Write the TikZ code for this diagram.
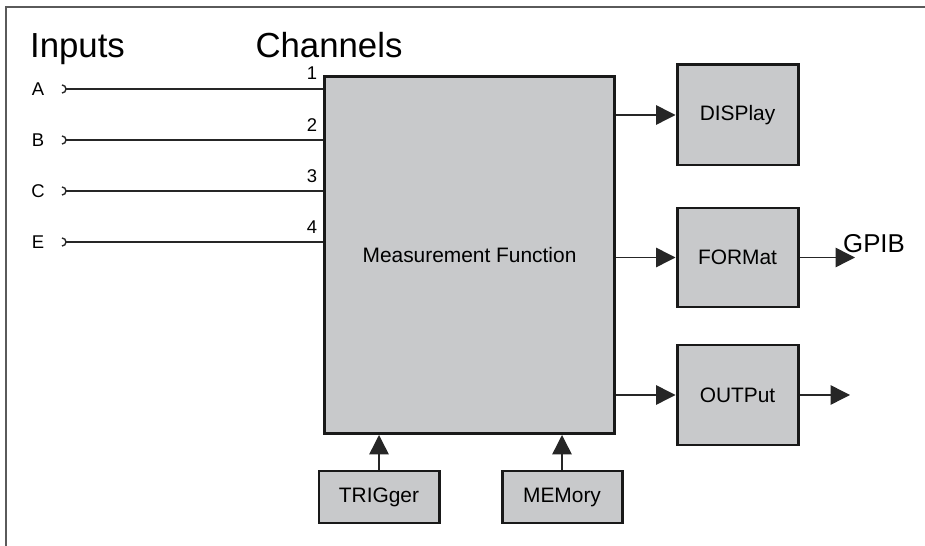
\documentclass[tikz,border=0pt]{standalone}
\usepackage{fontspec}
\setmainfont{Liberation Sans}
\usetikzlibrary{arrows.meta}
\definecolor{boxgray}{RGB}{200,201,203}
\definecolor{framegray}{RGB}{90,90,90}

\begin{document}
\begin{tikzpicture}[x=0.02cm,y=-0.02cm,>={Triangle[length=11pt,width=11pt]},
  blockbox/.style={draw=black!90,fill=boxgray,line width=1.7pt,inner sep=0pt,font=\fontsize{11.9}{14}\selectfont},
  wire/.style={line width=0.8pt,black!85},
  small/.style={font=\fontsize{10.5}{12}\selectfont},
  big/.style={font=\fontsize{19.8}{23}\selectfont,anchor=base}]
  \useasboundingbox (0,0) rectangle (925,546);
  \draw[framegray,line width=1pt] (6,546) -- (6,7) -- (925,7);
  % blocks
  \node[blockbox,minimum width=290*0.02cm,minimum height=357*0.02cm] (meas) at (469.5,255) {Measurement Function};
  \node[blockbox,minimum width=121*0.02cm,minimum height=100*0.02cm] (disp) at (737.5,115) {DISPlay};
  \node[blockbox,minimum width=121*0.02cm,minimum height=99*0.02cm] (form) at (737.5,257.5) {FORMat};
  \node[blockbox,minimum width=121*0.02cm,minimum height=100*0.02cm] (outp) at (737.5,395) {OUTPut};
  \node[blockbox,minimum width=120*0.02cm,minimum height=52*0.02cm] (trig) at (379,497) {TRIGger};
  \node[blockbox,minimum width=120*0.02cm,minimum height=52*0.02cm] (memo) at (562,497) {MEMory};
  % headings
  \node[big] (inputs) at (77.5,58) {Inputs};
  \node[big] (chans) at (329,58) {Channels};
  % inputs and channels
  \coordinate (inA) at (66,89);
  \coordinate (inB) at (66,140);
  \coordinate (inC) at (66,191);
  \coordinate (inE) at (66,242);
  \node[small] (labA) at (38,89) {A};
  \node[small] (labB) at (38,140) {B};
  \node[small] (labC) at (38,191) {C};
  \node[small] (labE) at (38,242) {E};
  \foreach \p in {inA,inB,inC,inE}{
    \draw[wire] ([shift={(-4,4)}]\p) arc[start angle=90,end angle=-90,radius=4];
    \draw[wire] (\p) -- (meas.west |- \p);
  }
  \node[small] (ch1) at (312,73) {1};
  \node[small] (ch2) at (312,125) {2};
  \node[small] (ch3) at (312,176) {3};
  \node[small] (ch4) at (312,227) {4};
  % outputs
  \draw[wire,->] (meas.east |- disp.west) -- (disp.west);
  \draw[wire,->] (meas.east |- form.west) -- (form.west);
  \draw[wire,->] (meas.east |- outp.west) -- (outp.west);
  \coordinate (gpibend) at (855,257.5);
  \coordinate (outend) at (850,395);
  \draw[wire,->] (form.east) -- (gpibend);
  \draw[wire,->] (outp.east) -- (outend);
  \node[font=\fontsize{14.7}{17}\selectfont] (gpib) at (874,244) {GPIB};
  % trigger and memory
  \draw[wire,->] (trig.north) -- (trig.north |- meas.south);
  \draw[wire,->] (memo.north) -- (memo.north |- meas.south);
\end{tikzpicture}
\end{document}
